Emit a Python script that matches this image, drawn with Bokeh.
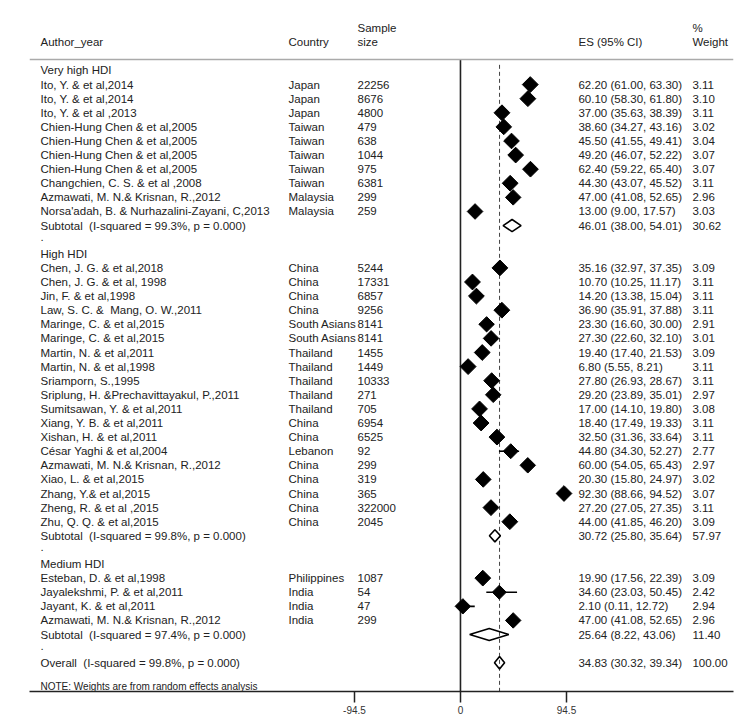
import numpy as np
from bokeh.plotting import figure
from bokeh.models import Range1d, FixedTicker, ColumnDataSource, Span
from bokeh.core.properties import value
from bokeh.embed import file_html
from bokeh.resources import INLINE

# ---------------- data ----------------
group_names = ["Very high HDI", "High HDI", "Medium HDI"]

vh_author = ["Ito, Y. & et al,2014", "Ito, Y. & et al,2014", "Ito, Y. & et al ,2013",
             "Chien-Hung Chen & et al,2005", "Chien-Hung Chen & et al,2005",
             "Chien-Hung Chen & et al,2005", "Chien-Hung Chen & et al,2005",
             "Changchien, C. S. & et al ,2008", "Azmawati, M. N.& Krisnan, R.,2012",
             "Norsa'adah, B. & Nurhazalini-Zayani, C,2013"]
vh_country = ["Japan", "Japan", "Japan", "Taiwan", "Taiwan", "Taiwan", "Taiwan", "Taiwan",
              "Malaysia", "Malaysia"]
vh_n = [22256, 8676, 4800, 479, 638, 1044, 975, 6381, 299, 259]
vh_es = [62.20, 60.10, 37.00, 38.60, 45.50, 49.20, 62.40, 44.30, 47.00, 13.00]
vh_lo = [61.00, 58.30, 35.63, 34.27, 41.55, 46.07, 59.22, 43.07, 41.08, 9.00]
vh_hi = [63.30, 61.80, 38.39, 43.16, 49.41, 52.22, 65.40, 45.52, 52.65, 17.57]
vh_w = [3.11, 3.10, 3.11, 3.02, 3.04, 3.07, 3.07, 3.11, 2.96, 3.03]

h_author = ["Chen, J. G. & et al,2018", "Chen, J. G. & et al, 1998", "Jin, F. & et al,1998",
            "Law, S. C. &\u00a0 Mang, O. W.,2011", "Maringe, C. & et al,2015", "Maringe, C. & et al,2015",
            "Martin, N. & et al,2011", "Martin, N. & et al,1998", "Sriamporn, S.,1995",
            "Sriplung, H. &Prechavittayakul, P.,2011", "Sumitsawan, Y. & et al,2011",
            "Xiang, Y. B. & et al,2011", "Xishan, H. & et al,2011", "César Yaghi & et al,2004",
            "Azmawati, M. N.& Krisnan, R.,2012", "Xiao, L. & et al,2015", "Zhang, Y.& et al,2015",
            "Zheng, R. & et al ,2015", "Zhu, Q. Q. & et al,2015"]
h_country = ["China", "China", "China", "China", "South Asians", "South Asians", "Thailand",
             "Thailand", "Thailand", "Thailand", "Thailand", "China", "China", "Lebanon",
             "China", "China", "China", "China", "China"]
h_n = [5244, 17331, 6857, 9256, 8141, 8141, 1455, 1449, 10333, 271, 705, 6954, 6525, 92,
       299, 319, 365, 322000, 2045]
h_es = [35.16, 10.70, 14.20, 36.90, 23.30, 27.30, 19.40, 6.80, 27.80, 29.20, 17.00, 18.40,
        32.50, 44.80, 60.00, 20.30, 92.30, 27.20, 44.00]
h_lo = [32.97, 10.25, 13.38, 35.91, 16.60, 22.60, 17.40, 5.55, 26.93, 23.89, 14.10, 17.49,
        31.36, 34.30, 54.05, 15.80, 88.66, 27.05, 41.85]
h_hi = [37.35, 11.17, 15.04, 37.88, 30.00, 32.10, 21.53, 8.21, 28.67, 35.01, 19.80, 19.33,
        33.64, 52.27, 65.43, 24.97, 94.52, 27.35, 46.20]
h_w = [3.09, 3.11, 3.11, 3.11, 2.91, 3.01, 3.09, 3.11, 3.11, 2.97, 3.08, 3.11, 3.11, 2.77,
       2.97, 3.02, 3.07, 3.11, 3.09]

m_author = ["Esteban, D. & et al,1998", "Jayalekshmi, P. & et al,2011", "Jayant, K. & et al,2011",
            "Azmawati, M. N.& Krisnan, R.,2012"]
m_country = ["Philippines", "India", "India", "India"]
m_n = [1087, 54, 47, 299]
m_es = [19.90, 34.60, 2.10, 47.00]
m_lo = [17.56, 23.03, 0.11, 41.08]
m_hi = [22.39, 50.45, 12.72, 52.65]
m_w = [3.09, 2.42, 2.94, 2.96]

sub_label = ["Subtotal\u00a0 (I-squared = 99.3%, p = 0.000)",
             "Subtotal\u00a0 (I-squared = 99.8%, p = 0.000)",
             "Subtotal\u00a0 (I-squared = 97.4%, p = 0.000)"]
sub_es = [46.01, 30.72, 25.64]
sub_lo = [38.00, 25.80, 8.22]
sub_hi = [54.01, 35.64, 43.06]
sub_w = [30.62, 57.97, 11.40]

overall_label = "Overall\u00a0 (I-squared = 99.8%, p = 0.000)"
overall_es, overall_lo, overall_hi, overall_w = 34.83, 30.32, 39.34, 100.00

note_text = "NOTE: Weights are from random effects analysis"
tick_values = [-94.5, 0, 94.5]
tick_labels = ["-94.5", "0", "94.5"]
null_value = 0

# ---------------- layout constants ----------------
X_AUTHOR, X_COUNTRY, X_N, X_ES, X_W = -374.4, -153.3, -91.8, 105.2, 206.8
FONT = "Liberation Sans"
FS = "11.5px"
TXT = "#222222"

groups = [
    (vh_author, vh_country, vh_n, vh_es, vh_lo, vh_hi, vh_w),
    (h_author, h_country, h_n, h_es, h_lo, h_hi, h_w),
    (m_author, m_country, m_n, m_es, m_lo, m_hi, m_w),
]

left_t, left_y = [], []
cty_t, cty_y = [], []
n_t, n_y = [], []
es_t, es_y = [], []
w_t, w_y = [], []
st_x, st_lo, st_hi, st_y, st_size = [], [], [], [], []
dia_xs, dia_ys = [], []

def fmt_ci(e, l, h):
    return f"{e:.2f} ({l:.2f}, {h:.2f})"

row = 0
for gi, (au, co, nn, es, lo, hi, ww) in enumerate(groups):
    left_t.append(group_names[gi]); left_y.append(row); row += 1
    for i in range(len(au)):
        left_t.append(au[i]); left_y.append(row)
        cty_t.append(co[i]); cty_y.append(row)
        n_t.append(str(nn[i])); n_y.append(row)
        es_t.append(fmt_ci(es[i], lo[i], hi[i])); es_y.append(row)
        w_t.append(f"{ww[i]:.2f}"); w_y.append(row)
        st_x.append(es[i]); st_lo.append(lo[i]); st_hi.append(hi[i]); st_y.append(row)
        st_size.append(11.2 * np.sqrt(ww[i] / 3.11))
        row += 1
    left_t.append(sub_label[gi]); left_y.append(row)
    es_t.append(fmt_ci(sub_es[gi], sub_lo[gi], sub_hi[gi])); es_y.append(row)
    w_t.append(f"{sub_w[gi]:.2f}"); w_y.append(row)
    dia_xs.append([sub_lo[gi], sub_es[gi], sub_hi[gi], sub_es[gi]])
    dia_ys.append([row, row - 0.43, row, row + 0.43])
    row += 1
    left_t.append("."); left_y.append(row - 0.2); row += 1

left_t.append(overall_label); left_y.append(row)
es_t.append(fmt_ci(overall_es, overall_lo, overall_hi)); es_y.append(row)
w_t.append(f"{overall_w:.2f}"); w_y.append(row)
dia_xs.append([overall_lo, overall_es, overall_hi, overall_es])
dia_ys.append([row, row - 0.45, row, row + 0.45])
overall_row = row

ROW_BOTTOM = 44.04
ROW_TOP = -4.04

p = figure(width=748, height=718, output_backend="svg", toolbar_location=None,
           x_range=Range1d(-384.2, 243.4), y_range=Range1d(ROW_BOTTOM, ROW_TOP),
           min_border_left=29, min_border_right=15, min_border_top=13, min_border_bottom=27)
p.outline_line_color = None
p.xgrid.visible = False
p.ygrid.visible = False
p.yaxis.visible = False
p.background_fill_color = "white"

# header rule
p.add_layout(Span(location=-0.78, dimension="width", line_color="#aaaaaa", line_width=1.5))

# null line and overall dashed line
p.segment(x0=[null_value], y0=[-0.78], x1=[null_value], y1=[ROW_BOTTOM],
          line_color="#222222", line_width=1.6)
p.segment(x0=[overall_es], y0=[-0.4], x1=[overall_es], y1=[ROW_BOTTOM],
          line_color="#444444", line_width=1, line_dash="4 3")

# study CIs and boxes
src = ColumnDataSource(dict(x=st_x, lo=st_lo, hi=st_hi, y=st_y, s=st_size))
p.segment(x0="lo", y0="y", x1="hi", y1="y", source=src, line_color="black", line_width=1.6)
p.scatter(x="x", y="y", size="s", marker="square", angle=np.pi / 4, source=src,
          fill_color="black", line_color="black")

# pooled diamonds
p.patches(xs=dia_xs, ys=dia_ys, fill_alpha=0, line_color="black", line_width=1.6)

def txt(xpos, ys, texts, size=FS):
    p.text(x=[xpos] * len(ys), y=ys, text=texts, text_font=value(FONT), text_font_size=size,
           text_color=TXT, text_baseline="middle", text_align="left")

txt(X_AUTHOR, left_y, left_t)
txt(X_COUNTRY, cty_y, cty_t)
txt(X_N, n_y, n_t)
txt(X_ES, es_y, es_t)
txt(X_W, w_y, w_t)

# headers
txt(X_AUTHOR, [-2.0], ["Author_year"])
txt(X_COUNTRY, [-2.0], ["Country"])
txt(X_N, [-3.0, -2.0], ["Sample", "size"])
txt(X_ES, [-2.0], ["ES (95% CI)"])
txt(X_W, [-3.0, -2.0], ["%", "Weight"])

# note
txt(X_AUTHOR, [overall_row + 1.69], [note_text], size="10px")

# axis
ax = p.xaxis[0]
ax.ticker = FixedTicker(ticks=tick_values)
ax.major_label_overrides = {t: l for t, l in zip(tick_values, tick_labels)}
ax.minor_tick_line_color = None
ax.major_tick_in = 0
ax.major_tick_out = 11
ax.major_tick_line_width = 1.5
ax.major_tick_line_color = "#222222"
ax.axis_line_width = 1.5
ax.axis_line_color = "#222222"
ax.major_label_text_font = FONT
ax.major_label_text_font_size = "10px"
ax.major_label_text_color = "#333333"
ax.major_label_standoff = 3

open("out.html", "w").write(file_html(p, INLINE))
